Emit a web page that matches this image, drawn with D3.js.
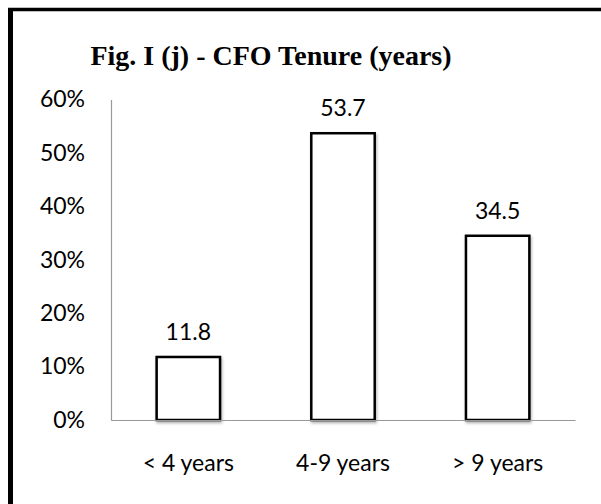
<!DOCTYPE html>
<html><head><meta charset="utf-8">
<script src="https://cdn.jsdelivr.net/npm/d3@7"></script>
<style>body{margin:0;background:#fff}svg{display:block}</style>
</head><body>
<script>
const categories = ["< 4 years", "4-9 years", "> 9 years"];
const values = [11.8, 53.7, 34.5];
const yTicks = [0, 10, 20, 30, 40, 50, 60];
const title = "Fig. I (j) - CFO Tenure (years)";

const W = 601, H = 504;
const svg = d3.select("body").append("svg").attr("width", W).attr("height", H);

const defs = svg.append("defs");
const f = defs.append("filter").attr("id","sh").attr("x","-20%").attr("y","-20%").attr("width","140%").attr("height","140%");
f.append("feGaussianBlur").attr("in","SourceAlpha").attr("stdDeviation",1.5).attr("result","b");
f.append("feOffset").attr("in","b").attr("dx",1).attr("dy",2).attr("result","o");
f.append("feComponentTransfer").attr("in","o").attr("result","o2").append("feFuncA").attr("type","linear").attr("slope",0.3);
const m = f.append("feMerge"); m.append("feMergeNode").attr("in","o2"); m.append("feMergeNode").attr("in","SourceGraphic");

// outer border (cropped on right/bottom)
svg.append("line").attr("x1", 10.5).attr("x2", 10.5).attr("y1", 8).attr("y2", H)
  .attr("stroke", "#000").attr("stroke-width", 5);
svg.append("line").attr("x1", 8).attr("x2", W).attr("y1", 9.5).attr("y2", 9.5)
  .attr("stroke", "#000").attr("stroke-width", 3.5);

svg.append("text").attr("x", 271).attr("y", 65).attr("text-anchor", "middle")
  .attr("font-family", "Liberation Serif, Times New Roman, serif").attr("font-weight", "bold")
  .attr("font-size", 28).text(title);

const x = d3.scaleBand().domain(categories).range([111, 575]).paddingInner(0.59).paddingOuter(0.295);
const y = d3.scaleLinear().domain([0, 60]).range([420, 99.6]);

const font = "Lato, Carlito, Calibri, sans-serif";
const fs = 23;

// y axis
const ya = svg.append("g").attr("transform", "translate(111,0)")
  .call(d3.axisLeft(y).tickValues(yTicks).tickSize(0).tickPadding(26).tickFormat(d => d + "%"));
ya.select(".domain").attr("stroke", "#999").attr("stroke-width", 1.2);
ya.selectAll("text").attr("font-family", font).attr("font-size", fs).attr("fill", "#000");

// bars
svg.append("g").selectAll("rect").data(values).join("rect")
  .attr("x", (d, i) => x(categories[i]))
  .attr("y", d => y(d))
  .attr("width", x.bandwidth())
  .attr("height", d => y(0) - y(d))
  .attr("fill", "#fff").attr("stroke", "#000").attr("stroke-width", 2.5)
  .attr("filter", "url(#sh)");

// x axis
const xa = svg.append("g").attr("transform", "translate(0,420)")
  .call(d3.axisBottom(x).tickSize(0).tickPadding(35));
xa.select(".domain").attr("stroke", "#999").attr("stroke-width", 1.2);
xa.selectAll("text").attr("font-family", font).attr("font-size", fs).attr("fill", "#000");

// value labels
svg.append("g").selectAll("text").data(values).join("text")
  .attr("x", (d, i) => x(categories[i]) + x.bandwidth() / 2)
  .attr("y", d => y(d) - 17)
  .attr("text-anchor", "middle")
  .attr("font-family", font).attr("font-size", fs).attr("fill", "#000")
  .text(d => d.toFixed(1));
</script>
</body></html>
